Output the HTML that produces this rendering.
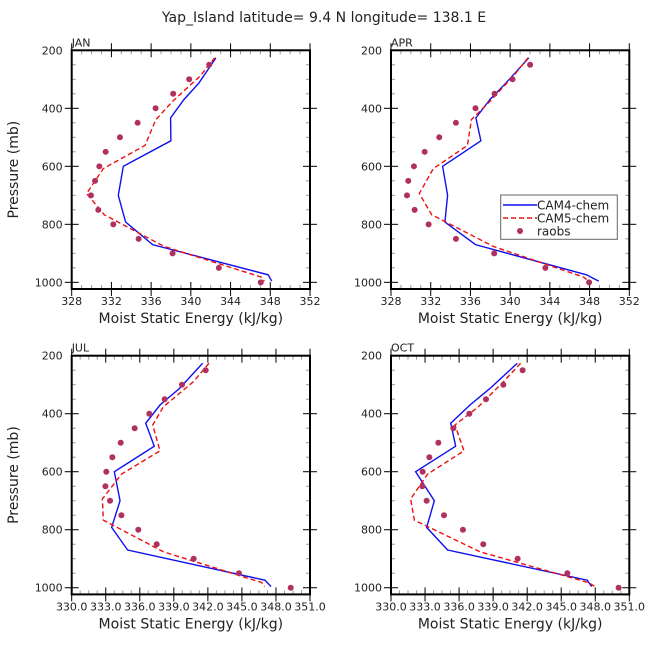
<!DOCTYPE html>
<html><head><meta charset="utf-8"><style>
body{margin:0;background:#fff}
svg{display:block}
text{font-family:"DejaVu Sans","Liberation Sans",sans-serif;fill:#222}
</style></head><body>
<svg id="c" width="648" height="648" viewBox="0 0 648 648">
<text x="324" y="22" text-anchor="middle" font-size="14">Yap_Island  latitude= 9.4 N longitude= 138.1 E</text>
</svg>
<script>
const raobLevels=[250,300,350,400,450,500,550,600,650,700,750,800,850,900,950,1000];
const cam4Levels=[226,313,370,433,512,600,700,792,870,974,996];
const cam5Levels=[226,290,376,439,528,608,694,767,876,982,996];
const months=["JAN","APR","JUL","OCT"];
const raobsJAN=[341.85,339.83,338.22,336.45,334.64,332.86,331.42,330.78,330.35,329.94,330.68,332.19,334.74,338.16,342.82,347.04];
const cam4JAN=[342.52,340.81,339.30,337.96,337.99,333.20,332.69,333.43,336.15,347.78,348.15];
const cam5JAN=[342.41,340.9,338.16,336.48,335.38,331.18,329.5,331.28,337.3,347.1,347.4];
const raobsAPR=[342.01,340.24,338.43,336.51,334.54,332.86,331.39,330.31,329.74,329.61,330.38,331.79,334.54,338.39,343.55,347.95];
const cam4APR=[341.88,339.57,337.96,336.55,337.05,333.2,333.7,333.43,336.51,347.68,348.92];
const cam5APR=[341.8,340.3,337.96,336.1,335.7,332.26,330.85,332.1,338.3,347.4,347.9];
const raobsJUL=[341.81,339.72,338.19,336.84,335.55,334.32,333.58,333.05,332.97,333.38,334.38,335.87,337.49,340.75,344.74,349.3];
const cam4JUL=[341.54,339.49,337.78,336.52,337.28,333.76,334.26,333.52,334.93,347.03,347.56];
const cam5JUL=[342.1,340.72,338.08,337.14,337.78,334.4,332.7,332.79,338.08,346.74,347.0];
const raobsOCT=[341.6,339.9,338.37,336.9,335.49,334.17,333.38,332.79,332.76,333.14,334.67,336.34,338.13,341.16,345.54,350.06];
const cam4OCT=[341.13,338.72,336.96,335.26,335.7,332.17,333.82,333.14,334.99,347.3,347.68];
const cam5OCT=[341.42,339.9,337.7,335.64,336.43,333.23,331.73,332.06,337.84,347.39,347.97];
const topXTicks=["328","332","336","340","344","348","352"];
const botXTicks=["330.0","333.0","336.0","339.0","342.0","345.0","348.0","351.0"];
const yTicks=[200,400,600,800,1000];

const NS="http://www.w3.org/2000/svg";
const svg=document.getElementById('c');
function mk(tag,attrs,parent){const e=document.createElementNS(NS,tag);for(const k in attrs)e.setAttribute(k,attrs[k]);(parent||svg).appendChild(e);return e;}

const panels=[
 {m:"JAN",x0:71.7,y0:50.3,xmin:328,xmax:352,maj:4,min:1,ticks:topXTicks,r:raobsJAN,c4:cam4JAN,c5:cam5JAN},
 {m:"APR",x0:391,y0:50.3,xmin:328,xmax:352,maj:4,min:1,ticks:topXTicks,r:raobsAPR,c4:cam4APR,c5:cam5APR},
 {m:"JUL",x0:71.7,y0:355.7,xmin:330,xmax:351,maj:3,min:0.75,ticks:botXTicks,r:raobsJUL,c4:cam4JUL,c5:cam5JUL},
 {m:"OCT",x0:391,y0:355.7,xmin:330,xmax:351,maj:3,min:0.75,ticks:botXTicks,r:raobsOCT,c4:cam4OCT,c5:cam5OCT}
];
const W=238.3,H=238.7,PMIN=200,PMAX=1023;
panels.forEach((p,i)=>{
 const g=mk('g',{});
 
 
 const X=v=>p.x0+(v-p.xmin)/(p.xmax-p.xmin)*W;
 const Y=v=>p.y0+(v-PMIN)/(PMAX-PMIN)*H;
 const lab=mk('text',{x:p.x0,y:p.y0-4,'font-size':11},g);lab.textContent=p.m;
 
 
 // minor y ticks
 for(let v=250;v<=1000;v+=50){const y=Y(v);const major=v%200===0;
  mk('line',{x1:p.x0-(major?7:0),x2:p.x0+(major?7:4),y1:y,y2:y,stroke:major?'#000':'#999','stroke-width':1},g);
  mk('line',{x1:p.x0+W+(major?7:0),x2:p.x0+W-(major?7:4),y1:y,y2:y,stroke:major?'#000':'#999','stroke-width':1},g);}
 yTicks.forEach(v=>{const t=mk('text',{x:p.x0-9,y:Y(v)+4,'font-size':11,'text-anchor':'end'},g);t.textContent=v;
  
  });
 // x ticks
 for(let v=p.xmin;v<=p.xmax+1e-6;v+=p.min){const x=X(v);const k=Math.round((v-p.xmin)/p.min);const major=k%Math.round(p.maj/p.min)===0;
  mk('line',{x1:x,x2:x,y1:p.y0-(major?7:0),y2:p.y0+(major?7:4),stroke:major?'#000':'#999'},g);
  mk('line',{x1:x,x2:x,y1:p.y0+H+(major?7:0),y2:p.y0+H-(major?7:4),stroke:major?'#000':'#999'},g);}
 p.ticks.forEach((s,j)=>{const t=mk('text',{x:X(p.xmin+j*p.maj),y:p.y0+H+16,'font-size':11,'text-anchor':'middle'},g);t.textContent=s;
  
  });
 mk('rect',{x:p.x0,y:p.y0,width:W,height:H,fill:'none',stroke:'#000','stroke-width':2},g);
 const xt=mk('text',{x:p.x0+W/2,y:p.y0+H+34,'font-size':14,'text-anchor':'middle'},g);xt.textContent="Moist Static Energy (kJ/kg)";
 
 
 if(i%2===0){const yt=mk('text',{x:18,y:p.y0+H/2,'font-size':14,'text-anchor':'middle',transform:`rotate(-90 18 ${p.y0+H/2})`},g);yt.textContent="Pressure (mb)";
  
  }
 const l4=mk('polyline',{points:p.c4.map((v,j)=>X(v)+','+Y(cam4Levels[j])).join(' '),fill:'none',stroke:'#1010ee','stroke-width':1.4},g);
 
 
 const l5=mk('polyline',{points:p.c5.map((v,j)=>X(v)+','+Y(cam5Levels[j])).join(' '),fill:'none',stroke:'#ee1010','stroke-width':1.4,'stroke-dasharray':'5,3'},g);
 
 
 p.r.forEach((v,j)=>{const c=mk('circle',{cx:X(v),cy:Y(raobLevels[j]),r:3,fill:'#b03060'},g);
  
  });
});
// legend
const lg=mk('g',{});


mk('rect',{x:500.7,y:195,width:116.6,height:44.3,fill:'#fff',stroke:'#666'},lg);
mk('line',{x1:503,x2:537,y1:205,y2:205,stroke:'#1010ee','stroke-width':1.4},lg);
mk('line',{x1:503,x2:537,y1:218,y2:218,stroke:'#ee1010','stroke-width':1.4,'stroke-dasharray':'5,3'},lg);
mk('circle',{cx:520,cy:231,r:3,fill:'#b03060'},lg);
[["CAM4-chem",209.5],["CAM5-chem",222.5],["raobs",235.5]].forEach(([s,y])=>{const t=mk('text',{x:537,y:y,'font-size':12},lg);t.textContent=s;
 
 });
</script>
</body></html>
